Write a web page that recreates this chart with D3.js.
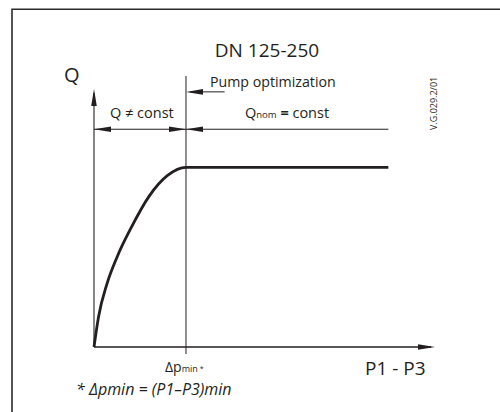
<!DOCTYPE html>
<html>
<head>
<meta charset="utf-8">
<script src="https://cdn.jsdelivr.net/npm/d3@7/dist/d3.min.js"></script>
<style>
  html, body { margin: 0; padding: 0; background: #fff; }
  svg { display: block; }
  text { font-family: "Open Sans", "Noto Sans", sans-serif; fill: #231f20; }
</style>
</head>
<body>
<script>
// ---- data (x in units of Δpmin, Q in units of Qnom) ----
const curveX = [0, 0.05, 0.14, 0.25, 0.4, 0.6, 0.8, 1];
const curveQ = [0, 0.17, 0.35, 0.50, 0.66, 0.84, 0.955, 1];
const plateauX = [1, 3.2];
const plateauQ = [1, 1];
const dpMin = 1;
const xAxisMax = 3.707;
const yAxisMax = 1.436;
const dimQ = 1.212;          // level of the dimension line
const pumpQ = 1.42;          // level of "Pump optimization" arrow
const pumpArrowStart = 1.42; // x where that arrow starts
const markerTop = 1.508;     // top of the Δpmin vertical line
const title = "DN 125-250";
const yLabel = "Q";
const xLabel = "P1 - P3";
const leftRegion = "Q \u2260 const";
const pumpLabel = "Pump optimization";
const code = "V.G.029.2/01";

const W = 500, H = 412;
const ink = "#231f20";

const svg = d3.select("body").append("svg").attr("width", W).attr("height", H);

const x = d3.scaleLinear().domain([0, xAxisMax]).range([94, 435]);
const y = d3.scaleLinear().domain([0, yAxisMax]).range([347, 89]);

// frame
svg.append("path").attr("d", `M12,${H} L12,9.3 L${W},9.3`)
  .attr("fill", "none").attr("stroke", "#2b2b2b").attr("stroke-width", 1.6);

function arrowHead(tx, ty, dir, len = 17, hw = 2.8) {
  let p;
  if (dir === "left") p = [[tx, ty], [tx + len, ty - hw], [tx + len, ty + hw]];
  else if (dir === "right") p = [[tx, ty], [tx - len, ty - hw], [tx - len, ty + hw]];
  else p = [[tx, ty], [tx - hw, ty + len], [tx + hw, ty + len]];
  svg.append("path").attr("d", d3.line()(p) + "Z").attr("fill", ink);
}

// axes
svg.append("line").attr("x1", x(0)).attr("x2", x(0)).attr("y1", y(0)).attr("y2", y(yAxisMax) + 4)
  .attr("stroke", "#444").attr("stroke-width", 1.3);
arrowHead(x(0), y(yAxisMax), "up");
svg.append("line").attr("x1", x(0)).attr("x2", x(xAxisMax) - 4).attr("y1", y(0)).attr("y2", y(0))
  .attr("stroke", ink).attr("stroke-width", 1.3);
arrowHead(x(xAxisMax), y(0), "right");

// Δpmin vertical line
svg.append("line").attr("x1", x(dpMin)).attr("x2", x(dpMin))
  .attr("y1", y(markerTop)).attr("y2", y(0) + 7)
  .attr("stroke", ink).attr("stroke-width", 1);

// dimension line
svg.append("line").attr("x1", x(0)).attr("x2", x(plateauX[1]))
  .attr("y1", y(dimQ)).attr("y2", y(dimQ)).attr("stroke", ink).attr("stroke-width", 1);
arrowHead(x(0), y(dimQ), "left");
arrowHead(x(dpMin), y(dimQ), "right");
arrowHead(x(dpMin), y(dimQ), "left");

// pump optimization arrow
svg.append("line").attr("x1", x(pumpArrowStart)).attr("x2", x(dpMin) + 4)
  .attr("y1", y(pumpQ)).attr("y2", y(pumpQ)).attr("stroke", ink).attr("stroke-width", 1);
arrowHead(x(dpMin), y(pumpQ), "left");

// curve + plateau in one smooth path
const pts = curveX.map((v, i) => [v, curveQ[i]]).concat(
  plateauX.slice(1).map((v, i) => [v, plateauQ[i + 1]]));
const line = d3.line().x(d => x(d[0])).y(d => y(d[1])).curve(d3.curveMonotoneX);
svg.append("path").attr("d", line(pts))
  .attr("fill", "none").attr("stroke", ink).attr("stroke-width", 2.8);

// texts
svg.append("text").attr("x", 267).attr("y", 57).attr("text-anchor", "middle")
  .attr("font-size", 19).text(title);
svg.append("text").attr("x", 64).attr("y", 82).attr("font-size", 20).text(yLabel);
svg.append("text").attr("x", 210).attr("y", 86.5).attr("font-size", 14.2).text(pumpLabel);
svg.append("text").attr("x", 110).attr("y", 117.5).attr("font-size", 14.5).text(leftRegion);

const t2 = svg.append("text").attr("x", 245).attr("y", 117.5).attr("font-size", 14.5);
t2.append("tspan").text("Q");
t2.append("tspan").attr("font-size", 9.5).text("nom");
t2.append("tspan").attr("font-weight", "bold").text(" = ");
t2.append("tspan").text("const");

svg.append("text").attr("transform", "translate(436.5,130) rotate(-90)")
  .attr("font-size", 9).text(code);

const t3 = svg.append("text").attr("x", 165).attr("y", 372).attr("font-size", 14);
t3.append("tspan").text("\u0394p");
t3.append("tspan").attr("font-size", 9).text("min");
t3.append("tspan").attr("font-size", 7).attr("dy", -1).text(" *");

svg.append("text").attr("x", 365).attr("y", 375).attr("font-size", 19).text(xLabel);

svg.append("text").attr("x", 76).attr("y", 395).attr("font-size", 16)
  .attr("font-style", "italic").text("* \u0394pmin = (P1\u2013P3)min");
</script>
</body>
</html>
